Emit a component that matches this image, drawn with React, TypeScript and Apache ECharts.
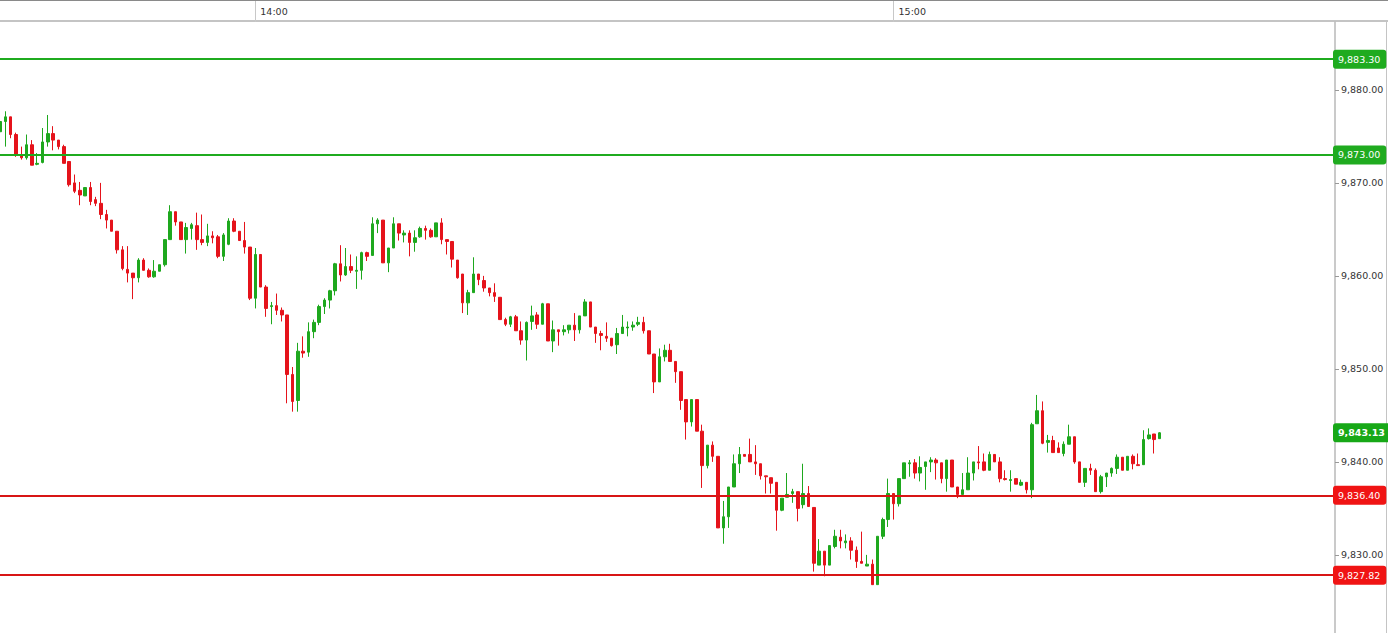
import React, { useEffect, useRef } from "react";
import * as echarts from "echarts";

// ---- data ----
const startTime = "13:36:00"; // first 30-second candle
const slotCount = 252; // time slots shown on the axis (to the right edge)

const opens = [
  9875.5, 9876.6, 9877.1, 9875.2, 9872.9, 9872.7, 9874.1, 9872.0, 9872.2, 9874.4,
  9875.3, 9874.6, 9873.9, 9872.3, 9870.0, 9869.2, 9868.6, 9869.5, 9868.2, 9867.8,
  9866.6, 9866.0, 9864.8, 9862.8, 9860.7, 9860.3, 9859.8, 9861.7, 9860.6, 9859.9,
  9860.5, 9861.2, 9863.9, 9866.9, 9865.8, 9863.9, 9865.1, 9865.4, 9863.9, 9863.6,
  9864.3, 9864.2, 9862.1, 9863.4, 9865.9, 9864.8, 9863.8, 9863.1, 9857.6, 9862.3,
  9858.8, 9856.7, 9856.8, 9856.3, 9855.8, 9849.4, 9846.6, 9851.9, 9851.8, 9854.0,
  9855.0, 9856.7, 9857.4, 9858.4, 9861.3, 9860.1, 9861.0, 9860.5, 9860.6, 9862.5,
  9862.2, 9865.6, 9866.0, 9861.4, 9863.0, 9865.6, 9864.4, 9864.6, 9863.6, 9864.2,
  9865.1, 9864.9, 9864.2, 9865.7, 9863.9, 9863.7, 9861.7, 9860.2, 9857.1, 9858.2,
  9860.2, 9859.5, 9858.7, 9858.2, 9857.7, 9855.3, 9854.8, 9855.6, 9854.1, 9853.1,
  9855.1, 9855.8, 9854.8, 9857.0, 9853.0, 9854.2, 9854.0, 9854.2, 9854.7, 9854.2,
  9855.7, 9857.2, 9854.5, 9853.8, 9853.5, 9853.3, 9852.6, 9853.8, 9854.4, 9854.5,
  9854.8, 9855.0, 9854.1, 9851.6, 9848.6, 9851.3, 9852.0, 9850.8, 9849.7, 9846.7,
  9844.3, 9846.7, 9843.3, 9839.6, 9841.8, 9840.6, 9832.9, 9834.1, 9837.3, 9839.8,
  9840.8, 9840.8, 9840.0, 9839.8, 9838.5, 9838.3, 9837.8, 9834.8, 9836.2, 9836.6,
  9836.8, 9835.4, 9836.6, 9835.1, 9828.9, 9830.4, 9828.9, 9830.9, 9831.9, 9831.3,
  9831.5, 9830.5, 9829.3, 9828.8, 9829.0, 9826.8, 9832.0, 9833.8, 9836.6, 9835.5,
  9838.2, 9839.8, 9839.9, 9838.8, 9839.5, 9840.0, 9840.2, 9839.9, 9838.2, 9840.2,
  9837.3, 9836.5, 9837.0, 9838.8, 9840.0, 9840.0, 9839.1, 9840.8, 9840.0, 9838.2,
  9838.0, 9838.2, 9837.5, 9837.8, 9837.0, 9844.1, 9845.5, 9842.1, 9842.3, 9841.5,
  9840.9, 9841.9, 9842.7, 9840.0, 9837.8, 9839.3, 9839.1, 9836.8, 9838.4, 9838.8,
  9839.3, 9840.5, 9839.1, 9840.6, 9839.7, 9839.7, 9842.5, 9843.0, 9842.5,
];

const closes = [
  9876.6, 9877.1, 9875.2, 9873.0, 9872.7, 9874.1, 9871.9, 9872.1, 9874.4, 9875.3,
  9874.6, 9873.9, 9872.1, 9869.8, 9869.1, 9868.7, 9869.5, 9868.0, 9867.8, 9866.6,
  9866.0, 9864.8, 9862.8, 9860.8, 9860.3, 9859.8, 9861.7, 9860.6, 9859.9, 9860.5,
  9861.2, 9863.9, 9866.9, 9865.8, 9863.9, 9865.2, 9865.5, 9863.9, 9863.6, 9864.3,
  9864.1, 9862.1, 9864.4, 9865.9, 9864.8, 9863.8, 9863.1, 9857.6, 9862.3, 9858.8,
  9856.5, 9856.8, 9856.3, 9855.8, 9849.4, 9846.5, 9851.9, 9851.7, 9854.0, 9855.0,
  9856.7, 9857.4, 9858.4, 9861.3, 9860.1, 9861.0, 9860.6, 9860.6, 9862.5, 9862.1,
  9865.6, 9866.0, 9861.4, 9863.0, 9865.6, 9864.6, 9864.6, 9863.6, 9864.1, 9865.1,
  9864.9, 9864.2, 9865.7, 9863.9, 9863.7, 9861.8, 9859.8, 9857.1, 9858.2, 9860.2,
  9859.6, 9858.7, 9858.2, 9857.8, 9855.3, 9854.8, 9855.6, 9854.1, 9853.1, 9855.0,
  9855.7, 9854.8, 9857.0, 9853.0, 9854.2, 9854.0, 9854.2, 9854.7, 9854.2, 9855.7,
  9857.2, 9854.5, 9853.8, 9853.6, 9853.3, 9852.5, 9853.8, 9854.5, 9854.5, 9854.7,
  9855.0, 9854.1, 9851.6, 9848.6, 9851.3, 9852.0, 9850.8, 9849.7, 9846.6, 9844.3,
  9846.7, 9843.3, 9839.6, 9841.8, 9840.6, 9832.9, 9834.1, 9837.3, 9839.8, 9840.8,
  9840.6, 9840.0, 9839.8, 9838.5, 9838.4, 9837.7, 9834.8, 9836.1, 9836.5, 9836.8,
  9835.0, 9836.6, 9835.2, 9829.1, 9830.4, 9828.9, 9831.0, 9832.0, 9831.5, 9831.5,
  9830.5, 9829.3, 9829.1, 9829.0, 9826.8, 9832.0, 9833.8, 9836.6, 9835.5, 9838.2,
  9839.9, 9839.9, 9838.8, 9839.4, 9840.0, 9840.2, 9839.9, 9838.2, 9840.2, 9837.3,
  9836.5, 9837.0, 9838.8, 9840.0, 9839.9, 9839.1, 9840.8, 9840.0, 9838.2, 9838.1,
  9838.1, 9837.6, 9837.8, 9837.0, 9844.0, 9845.5, 9842.0, 9842.3, 9841.0, 9841.0,
  9841.9, 9842.7, 9840.0, 9837.8, 9839.3, 9839.1, 9836.8, 9838.4, 9838.8, 9839.3,
  9840.5, 9839.1, 9840.6, 9839.8, 9839.6, 9842.4, 9842.9, 9842.4, 9843.13,
];

const lows = [
  9875.2, 9873.9, 9874.8, 9872.8, 9872.5, 9872.5, 9871.9, 9871.9, 9872.1, 9873.9,
  9873.5, 9873.6, 9872.1, 9869.6, 9868.9, 9867.6, 9868.6, 9867.6, 9867.5, 9866.1,
  9865.1, 9864.8, 9862.4, 9860.6, 9859.3, 9857.5, 9859.3, 9860.6, 9859.8, 9859.8,
  9860.5, 9861.0, 9863.9, 9865.4, 9863.9, 9862.4, 9863.9, 9862.8, 9863.3, 9863.2,
  9863.5, 9861.9, 9861.6, 9863.3, 9864.7, 9863.8, 9862.4, 9857.4, 9856.5, 9858.8,
  9855.6, 9854.8, 9855.8, 9855.1, 9846.3, 9845.4, 9845.4, 9851.2, 9851.3, 9853.3,
  9854.7, 9855.9, 9856.5, 9857.9, 9859.4, 9860.0, 9860.3, 9858.6, 9859.6, 9861.6,
  9862.2, 9864.6, 9861.4, 9860.4, 9863.0, 9863.8, 9863.6, 9862.1, 9862.6, 9864.1,
  9863.9, 9864.1, 9864.2, 9863.4, 9862.3, 9860.9, 9859.7, 9856.0, 9855.8, 9858.2,
  9859.0, 9858.3, 9857.8, 9857.2, 9855.3, 9854.6, 9854.5, 9854.1, 9852.6, 9850.9,
  9854.2, 9854.3, 9854.8, 9853.0, 9851.8, 9852.5, 9853.6, 9853.8, 9853.0, 9853.8,
  9855.7, 9854.5, 9852.8, 9852.0, 9852.9, 9852.4, 9851.6, 9853.8, 9853.5, 9854.1,
  9854.6, 9853.8, 9851.6, 9847.4, 9848.6, 9850.8, 9850.8, 9848.5, 9845.6, 9842.4,
  9843.8, 9843.3, 9837.2, 9839.3, 9840.0, 9832.9, 9831.2, 9832.9, 9837.3, 9838.8,
  9840.6, 9840.0, 9838.6, 9838.1, 9836.6, 9836.6, 9832.6, 9834.7, 9836.2, 9835.6,
  9833.6, 9835.0, 9835.2, 9828.2, 9828.9, 9827.7, 9828.9, 9830.7, 9830.7, 9830.7,
  9829.5, 9828.6, 9829.1, 9828.8, 9826.8, 9826.8, 9831.7, 9833.0, 9833.8, 9835.2,
  9838.2, 9838.4, 9838.2, 9837.9, 9837.0, 9838.9, 9838.1, 9837.7, 9836.8, 9837.3,
  9836.1, 9836.5, 9837.0, 9838.0, 9839.2, 9839.0, 9839.1, 9840.0, 9837.8, 9838.0,
  9836.8, 9837.6, 9837.4, 9836.6, 9836.1, 9844.1, 9841.9, 9841.0, 9841.0, 9841.0,
  9840.6, 9841.9, 9839.8, 9837.8, 9837.3, 9838.6, 9836.8, 9836.6, 9837.3, 9838.4,
  9838.7, 9839.1, 9839.1, 9839.2, 9839.6, 9839.7, 9842.4, 9840.9, 9842.5,
];

const highs = [
  9877.5, 9877.7, 9877.1, 9875.4, 9873.9, 9875.2, 9874.6, 9873.2, 9875.9, 9877.3,
  9876.1, 9874.6, 9874.1, 9872.3, 9870.9, 9870.1, 9869.5, 9870.1, 9868.5, 9870.0,
  9867.1, 9866.0, 9864.8, 9863.2, 9863.2, 9860.3, 9861.9, 9861.9, 9860.8, 9861.7,
  9861.2, 9863.9, 9867.6, 9866.9, 9865.8, 9865.7, 9865.7, 9866.8, 9866.6, 9865.6,
  9864.8, 9864.4, 9864.6, 9866.2, 9866.2, 9864.8, 9865.8, 9863.1, 9863.0, 9862.3,
  9859.0, 9857.2, 9858.1, 9856.6, 9855.8, 9850.2, 9852.8, 9853.5, 9855.0, 9855.3,
  9856.9, 9857.6, 9858.5, 9861.4, 9863.3, 9863.0, 9862.3, 9862.1, 9862.6, 9862.6,
  9866.3, 9866.2, 9866.0, 9863.0, 9866.3, 9865.6, 9864.9, 9864.9, 9864.9, 9865.3,
  9865.4, 9865.1, 9865.7, 9866.2, 9863.9, 9863.7, 9861.7, 9860.2, 9858.5, 9862.0,
  9860.2, 9860.0, 9858.7, 9859.2, 9857.7, 9855.5, 9855.7, 9855.8, 9855.1, 9855.1,
  9856.8, 9856.1, 9857.1, 9857.0, 9855.2, 9854.2, 9854.7, 9854.7, 9856.0, 9855.7,
  9857.5, 9857.2, 9854.5, 9854.1, 9855.0, 9853.3, 9854.4, 9855.8, 9855.1, 9855.1,
  9855.6, 9855.6, 9854.1, 9851.6, 9852.2, 9852.6, 9852.7, 9850.8, 9849.7, 9846.7,
  9846.7, 9846.7, 9844.0, 9841.8, 9842.2, 9840.6, 9835.8, 9837.3, 9840.8, 9841.6,
  9840.8, 9842.5, 9841.8, 9839.8, 9838.5, 9838.3, 9837.8, 9836.1, 9838.8, 9837.1,
  9836.8, 9839.8, 9837.4, 9835.1, 9831.7, 9830.4, 9831.0, 9832.7, 9832.7, 9832.2,
  9831.9, 9830.9, 9832.5, 9830.0, 9829.5, 9832.0, 9834.0, 9838.2, 9836.6, 9838.2,
  9839.9, 9840.2, 9840.3, 9840.6, 9840.0, 9840.5, 9840.4, 9839.9, 9840.2, 9840.2,
  9837.3, 9838.8, 9840.5, 9840.0, 9841.7, 9840.9, 9841.1, 9840.8, 9840.5, 9839.1,
  9839.1, 9838.2, 9838.1, 9837.8, 9844.2, 9847.2, 9846.5, 9842.9, 9842.8, 9842.1,
  9842.2, 9844.0, 9842.7, 9840.0, 9839.3, 9839.8, 9839.3, 9838.6, 9838.8, 9839.4,
  9840.8, 9840.5, 9840.6, 9840.8, 9840.9, 9843.4, 9843.6, 9843.0, 9843.2,
];

const resistanceLevels = [9883.3, 9873.0];
const supportLevels = [9836.4, 9827.82];
const lastPrice = 9843.13;

const yMin = 9821.6;
const yMax = 9887.3;

// ---- styling ----
const FONT = "'DejaVu Sans', Verdana, sans-serif";
const UP = "#1ea81e";
const DOWN = "#e5131b";
const LEVEL_GREEN = "#1fab1f";
const LEVEL_RED = "#d81515";
const BADGE_RED = "#f01414";

const pad2 = (n: number) => (n < 10 ? "0" + n : String(n));

function buildTimes(): string[] {
  const [h, m, s] = startTime.split(":").map(Number);
  let t = h * 3600 + m * 60 + s;
  const out: string[] = [];
  for (let i = 0; i < slotCount; i++) {
    const hh = Math.floor(t / 3600);
    const mm = Math.floor((t % 3600) / 60);
    const ss = t % 60;
    out.push(`${pad2(hh)}:${pad2(mm)}:${pad2(ss)}`);
    t += 30;
  }
  return out;
}

function fmt(v: number): string {
  const [i, d] = v.toFixed(2).split(".");
  return i.replace(/\B(?=(\d{3})+(?!\d))/g, ",") + "." + d;
}

const isHour = (_i: number, v: string) => typeof v === "string" && v.endsWith(":00:00");

function level(v: number, lineColor: string, badgeColor: string, showLine = true, bold = false) {
  return {
    yAxis: v,
    lineStyle: {
      color: showLine ? lineColor : "rgba(0,0,0,0)",
      width: 2,
      type: "solid",
    },
    label: {
      show: true,
      position: "end",
      distance: -2,
      formatter: fmt(v),
      color: "#ffffff",
      backgroundColor: badgeColor,
      borderRadius: 3,
      padding: [5, 6, 4, 5],
      fontSize: 9.5,
      fontFamily: FONT,
      fontWeight: bold ? "bold" : "normal",
    },
  };
}

export default function App() {
  const ref = useRef<HTMLDivElement>(null);

  useEffect(() => {
    if (!ref.current) return;
    const chart = echarts.init(ref.current, undefined, { renderer: "svg" });
    const times = buildTimes();
    const candles = opens.map((o, i) => [o, closes[i], lows[i], highs[i]]);

    chart.setOption({
      animation: false,
      backgroundColor: "#ffffff",
      grid: { left: 0, right: 53, top: 22, bottom: 0, containLabel: false },
      xAxis: {
        type: "category",
        data: times,
        position: "top",
        boundaryGap: false,
        axisLine: { show: false },
        axisTick: {
          show: true,
          interval: isHour,
          length: 21,
          lineStyle: { color: "#c8c8c8", width: 1 },
        },
        axisLabel: {
          interval: isHour,
          formatter: (v: string) => v.slice(0, 5),
          align: "left",
          padding: [0, 0, 0, 5],
          margin: 6,
          color: "#333333",
          fontSize: 9.5,
          fontFamily: FONT,
        },
        splitLine: { show: false },
      },
      yAxis: {
        type: "value",
        position: "right",
        min: yMin,
        max: yMax,
        splitNumber: 6,
        minInterval: 10,
        maxInterval: 10,
        splitLine: { show: false },
        axisLine: { show: true, lineStyle: { color: "#b8b8b8", width: 1.5 } },
        axisTick: { show: true, length: 4, lineStyle: { color: "#999999" } },
        axisLabel: {
          margin: 6,
          color: "#333333",
          fontSize: 9.5,
          fontFamily: FONT,
          formatter: (v: number) => fmt(v),
          showMinLabel: false,
          showMaxLabel: false,
        },
      },
      graphic: [
        { type: "line", shape: { x1: 0, y1: 0.5, x2: 1388, y2: 0.5 }, style: { stroke: "#8a8a8a", lineWidth: 1 } },
        { type: "line", shape: { x1: 0, y1: 21, x2: 1388, y2: 21 }, style: { stroke: "#c4c4c4", lineWidth: 2 } },
        { type: "line", shape: { x1: 1386.5, y1: 21, x2: 1386.5, y2: 633 }, style: { stroke: "#c4c4c4", lineWidth: 1 } },
      ],
      series: [
        {
          type: "candlestick",
          data: candles,
          barWidth: 3,
          itemStyle: {
            color: UP,
            color0: DOWN,
            borderColor: UP,
            borderColor0: DOWN,
            borderWidth: 1,
          },
          markLine: {
            silent: true,
            symbol: ["none", "none"],
            animation: false,
            data: [
              ...resistanceLevels.map((v) => level(v, LEVEL_GREEN, LEVEL_GREEN)),
              ...supportLevels.map((v) => level(v, LEVEL_RED, BADGE_RED)),
              level(lastPrice, UP, "#17a817", false, true),
            ],
          },
        },
      ],
    });

    return () => chart.dispose();
  }, []);

  return (
    <div
      ref={ref}
      style={{ position: "fixed", left: 0, top: 0, width: 1388, height: 633, background: "#fff" }}
    />
  );
}
